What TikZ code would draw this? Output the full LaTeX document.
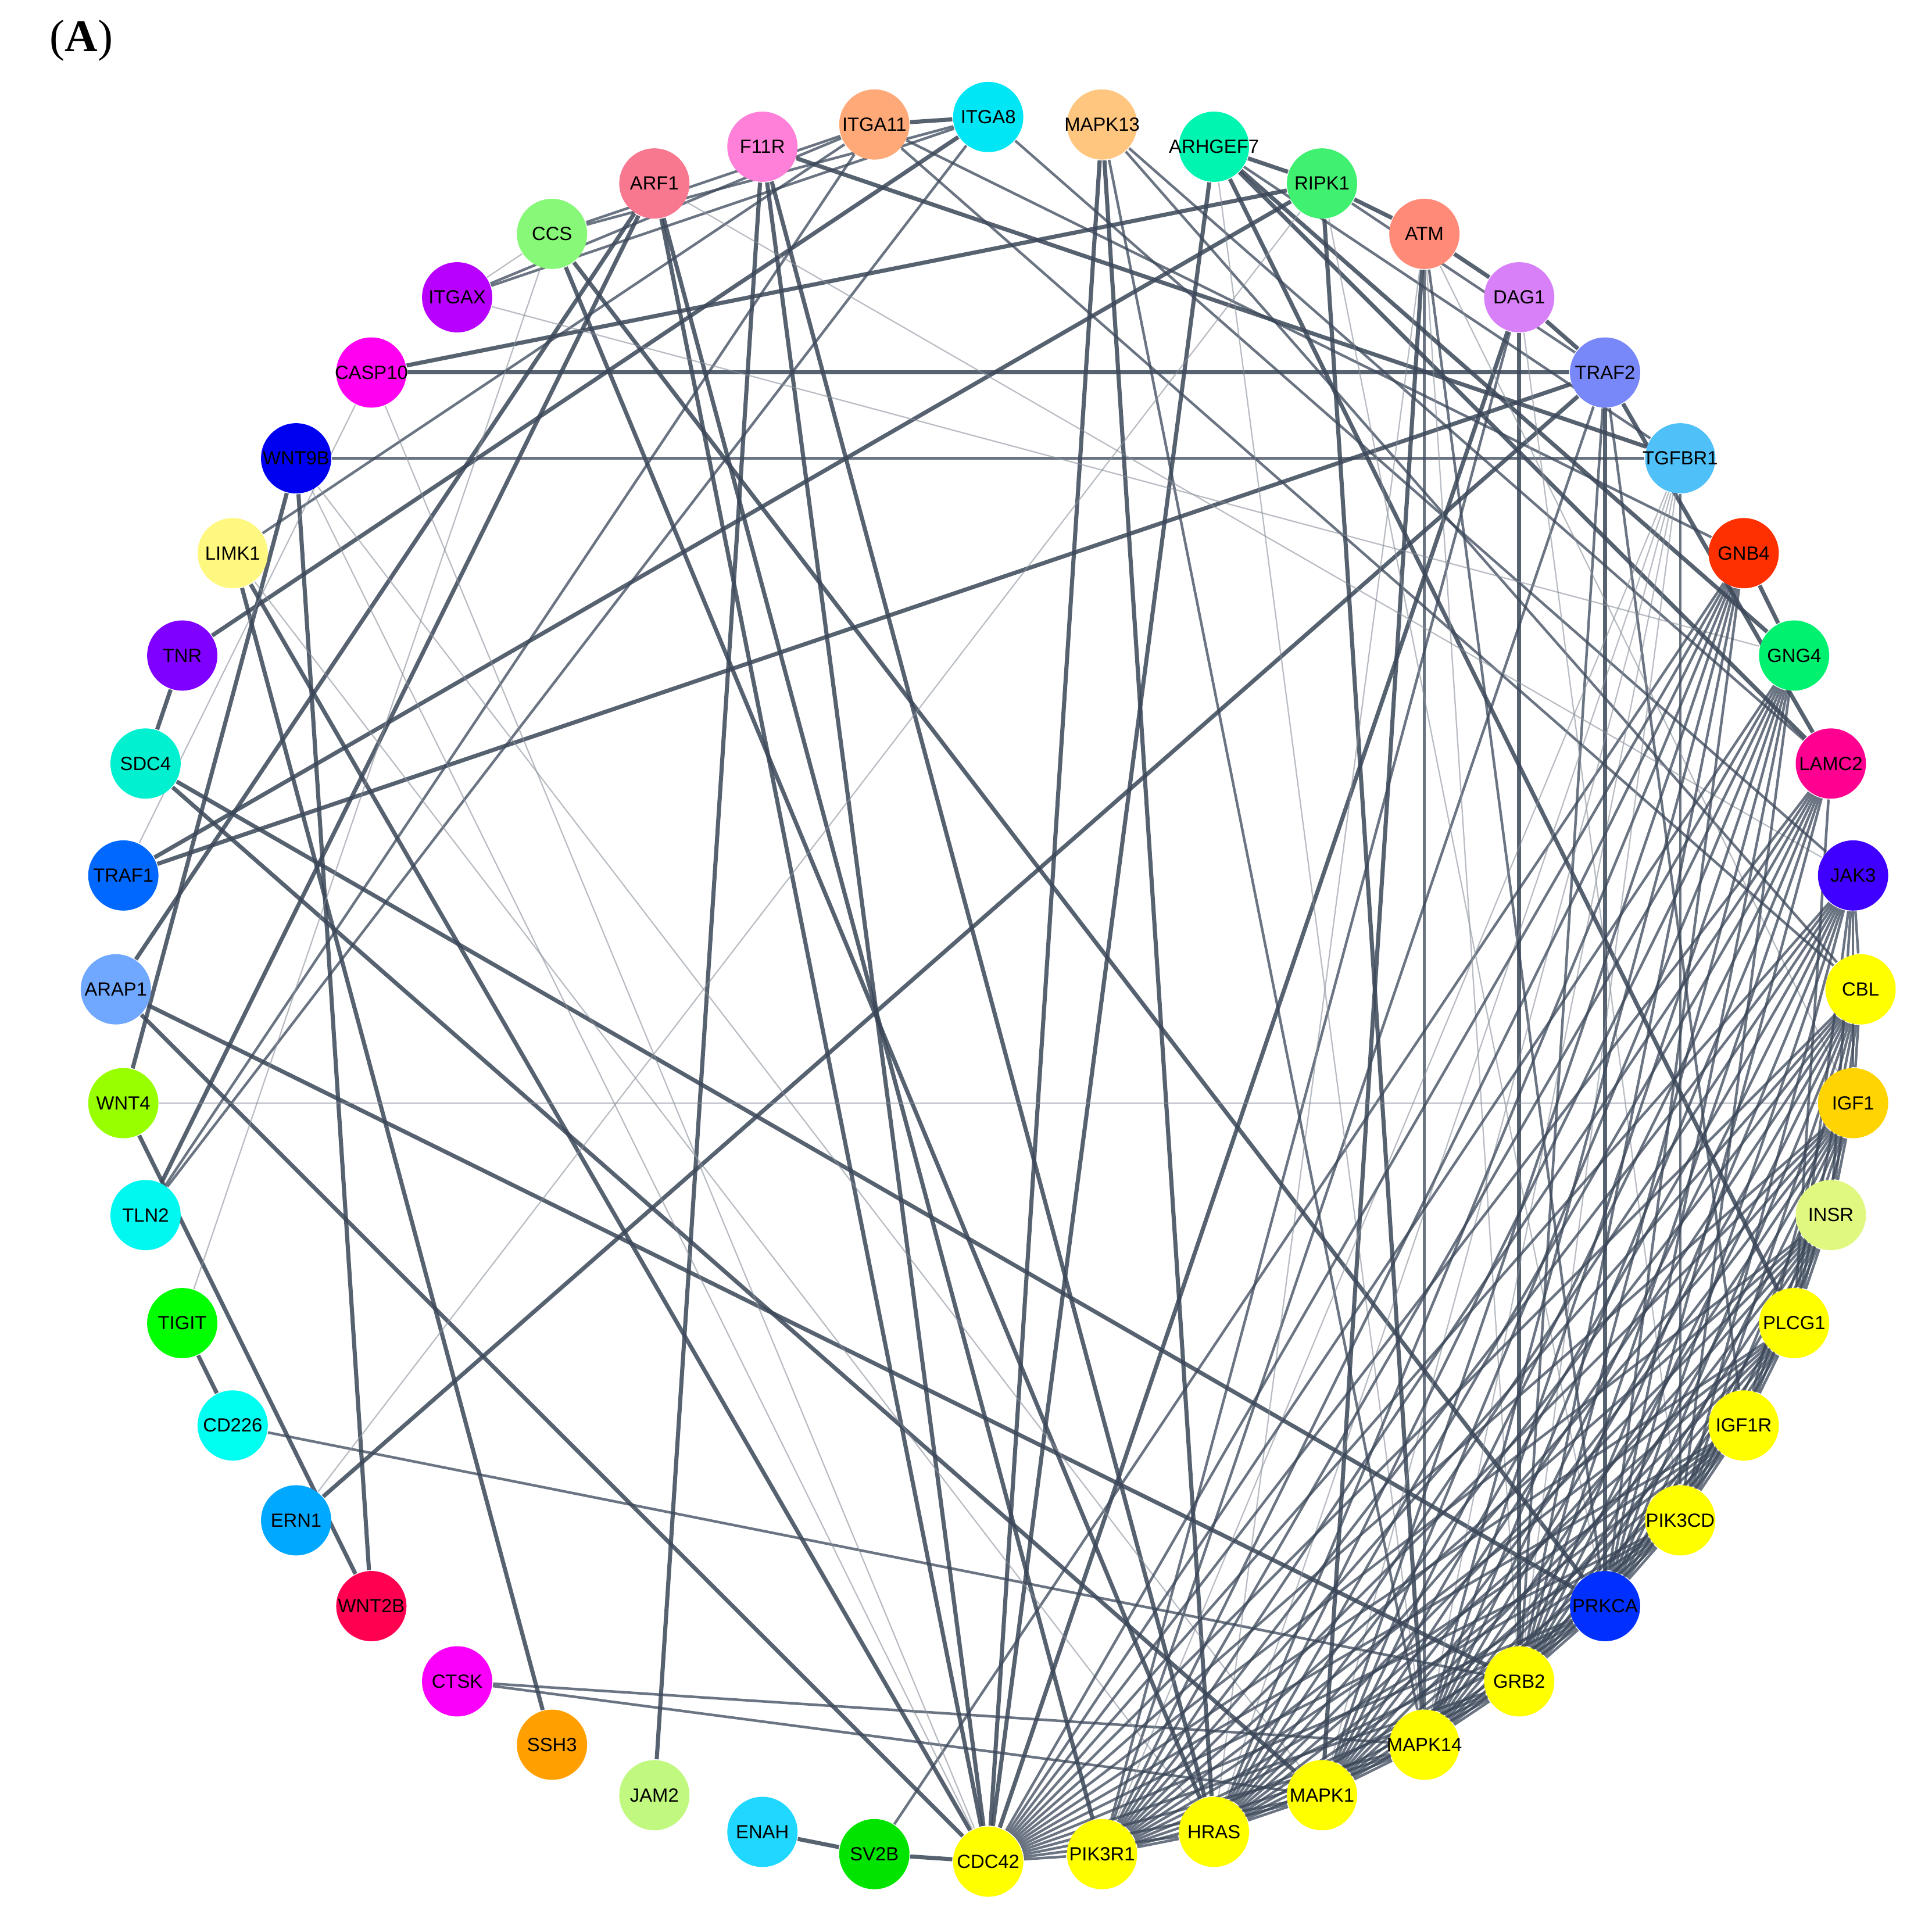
\documentclass[tikz,border=0pt]{standalone}
\usepackage{fontspec}
\setmainfont{Liberation Sans}
\newfontfamily\panelfont{Liberation Serif}
\usetikzlibrary{backgrounds}

\definecolor{edgeink}{RGB}{58,70,88}
\definecolor{gITGA8}{RGB}{0,230,245}
\definecolor{gMAPK13}{RGB}{255,198,128}
\definecolor{gARHGEF7}{RGB}{0,245,176}
\definecolor{gRIPK1}{RGB}{64,240,112}
\definecolor{gATM}{RGB}{255,138,120}
\definecolor{gDAG1}{RGB}{216,128,248}
\definecolor{gTRAF2}{RGB}{120,136,248}
\definecolor{gTGFBR1}{RGB}{80,192,248}
\definecolor{gGNB4}{RGB}{255,48,0}
\definecolor{gGNG4}{RGB}{0,240,112}
\definecolor{gLAMC2}{RGB}{255,0,144}
\definecolor{gJAK3}{RGB}{64,0,255}
\definecolor{gCBL}{RGB}{255,255,0}
\definecolor{gIGF1}{RGB}{255,212,0}
\definecolor{gINSR}{RGB}{224,248,128}
\definecolor{gPLCG1}{RGB}{255,255,0}
\definecolor{gIGF1R}{RGB}{255,255,0}
\definecolor{gPIK3CD}{RGB}{255,255,0}
\definecolor{gPRKCA}{RGB}{0,48,255}
\definecolor{gGRB2}{RGB}{255,255,0}
\definecolor{gMAPK14}{RGB}{255,255,0}
\definecolor{gMAPK1}{RGB}{255,255,0}
\definecolor{gHRAS}{RGB}{255,255,0}
\definecolor{gPIK3R1}{RGB}{255,255,0}
\definecolor{gCDC42}{RGB}{255,255,0}
\definecolor{gSV2B}{RGB}{0,228,0}
\definecolor{gENAH}{RGB}{32,216,255}
\definecolor{gJAM2}{RGB}{192,248,128}
\definecolor{gSSH3}{RGB}{255,160,0}
\definecolor{gCTSK}{RGB}{250,0,250}
\definecolor{gWNT2B}{RGB}{255,0,80}
\definecolor{gERN1}{RGB}{0,168,255}
\definecolor{gCD226}{RGB}{0,255,240}
\definecolor{gTIGIT}{RGB}{0,255,0}
\definecolor{gTLN2}{RGB}{0,248,240}
\definecolor{gWNT4}{RGB}{152,255,0}
\definecolor{gARAP1}{RGB}{112,168,255}
\definecolor{gTRAF1}{RGB}{0,104,255}
\definecolor{gSDC4}{RGB}{0,240,208}
\definecolor{gTNR}{RGB}{128,0,255}
\definecolor{gLIMK1}{RGB}{255,248,128}
\definecolor{gWNT9B}{RGB}{0,0,240}
\definecolor{gCASP10}{RGB}{255,0,240}
\definecolor{gITGAX}{RGB}{184,0,255}
\definecolor{gCCS}{RGB}{136,248,120}
\definecolor{gARF1}{RGB}{248,120,144}
\definecolor{gF11R}{RGB}{255,128,216}
\definecolor{gITGA11}{RGB}{255,168,120}

\tikzset{
  gene/.style={circle, fill=#1, minimum size=0.57cm, inner sep=0pt, font=\fontsize{4.4}{5}\selectfont},
  strong/.style={draw=edgeink, line width=0.95pt, opacity=0.85},
  medium/.style={draw=edgeink, line width=0.6pt, opacity=0.75},
  weak/.style={draw=edgeink!60, line width=0.3pt, opacity=0.6},
}

\begin{document}
\begin{tikzpicture}
\useasboundingbox (0,0) rectangle (15.68,15.54);
\coordinate (hub) at (8.02,7.51);
\node[font=\panelfont\fontsize{10.5}{12}\selectfont] (panel) at (0.66,15.21) {(\textbf{A})};

% genes round the ring, clockwise from the top
\foreach \g [count=\k from 0] in {ITGA8,MAPK13,ARHGEF7,RIPK1,ATM,DAG1,TRAF2,TGFBR1,GNB4,GNG4,LAMC2,JAK3,
    CBL,IGF1,INSR,PLCG1,IGF1R,PIK3CD,PRKCA,GRB2,MAPK14,MAPK1,HRAS,PIK3R1,CDC42,SV2B,ENAH,JAM2,SSH3,
    CTSK,WNT2B,ERN1,CD226,TIGIT,TLN2,WNT4,ARAP1,TRAF1,SDC4,TNR,LIMK1,WNT9B,CASP10,ITGAX,CCS,ARF1,F11R,ITGA11}
  \path (hub) ++({90-7.5*\k}:7.08) node[gene=g\g] (\g) {\makebox[0pt][c]{\g}};

\begin{pgfonlayer}{background}
% heavy interactions
\foreach \a/\b in {ITGA11/ITGA8,CASP10/TRAF2,CASP10/RIPK1,TRAF1/TRAF2,TRAF1/RIPK1,ERN1/TRAF2,WNT4/WNT2B,
    WNT2B/WNT9B,WNT9B/WNT4,LIMK1/SSH3,LIMK1/CDC42,TNR/ITGA8,TNR/SDC4,SDC4/PRKCA,SDC4/MAPK1,ARAP1/GRB2,
    ARAP1/CDC42,ARAP1/ARF1,TIGIT/CD226,JAM2/F11R,ENAH/SV2B,SV2B/CDC42,CCS/HRAS,CCS/PRKCA,ARF1/CDC42,
    ARF1/PIK3R1,ARF1/TLN2,F11R/CDC42,F11R/HRAS,F11R/TGFBR1,MAPK13/CDC42,MAPK13/HRAS,ARHGEF7/CDC42,
    ARHGEF7/GNG4,ARHGEF7/LAMC2,ARHGEF7/PLCG1,ARHGEF7/RIPK1,RIPK1/ATM,RIPK1/MAPK14,ATM/DAG1,ATM/MAPK1,
    DAG1/TRAF2,DAG1/CDC42,DAG1/GRB2,TRAF2/PRKCA,TRAF2/LAMC2,GNB4/GNG4}
  \draw[strong] (\a) -- (\b);
% middle weight
\foreach \a/\b in {WNT9B/TGFBR1,LIMK1/ITGA11,TLN2/ITGA8,TLN2/ITGA11,CD226/GRB2,CTSK/MAPK14,CTSK/MAPK1,
    SV2B/GNB4,ITGAX/ITGA11,ITGAX/ITGA8,CCS/ITGA8,CCS/ITGA11,ITGA11/GNB4,ITGA11/CBL,ITGA8/JAK3,
    MAPK13/MAPK14,MAPK13/LAMC2,MAPK13/CBL,ARHGEF7/TGFBR1,RIPK1/TRAF2,ATM/MAPK14,ATM/PRKCA,DAG1/PIK3R1,
    TRAF2/GRB2,TRAF2/IGF1R,TRAF2/PIK3R1,TGFBR1/PIK3CD}
  \draw[medium] (\a) -- (\b);
% faint ones
\foreach \a/\b in {CASP10/TRAF1,CASP10/CDC42,WNT4/IGF1,ERN1/RIPK1,TIGIT/CCS,ITGAX/CCS,ITGAX/GNG4,
    ARF1/JAK3,ARHGEF7/MAPK14,RIPK1/PRKCA,ATM/GRB2,ATM/HRAS,ATM/IGF1,DAG1/PIK3CD,TGFBR1/PIK3R1,
    TGFBR1/HRAS,TGFBR1/MAPK1,TGFBR1/MAPK14,TGFBR1/GRB2,WNT9B/CDC42,WNT9B/MAPK1,LIMK1/HRAS}
  \draw[weak] (\a) -- (\b);
% dense core on the lower right
\foreach \a/\others in {CBL/{IGF1,INSR,PLCG1,IGF1R,PIK3CD,PRKCA,GRB2,MAPK14,MAPK1,HRAS,PIK3R1,CDC42},
    IGF1/{INSR,PLCG1,IGF1R,PIK3CD,PRKCA,GRB2,MAPK14,MAPK1,HRAS,PIK3R1,CDC42},
    INSR/{PLCG1,IGF1R,PIK3CD,PRKCA,GRB2,MAPK14,MAPK1,HRAS,PIK3R1,CDC42},
    PLCG1/{IGF1R,PIK3CD,PRKCA,GRB2,MAPK14,MAPK1,HRAS,PIK3R1,CDC42},
    IGF1R/{PIK3CD,PRKCA,GRB2,MAPK14,MAPK1,HRAS,PIK3R1,CDC42},
    PIK3CD/{PRKCA,GRB2,MAPK14,MAPK1,HRAS,PIK3R1,CDC42},
    PRKCA/{GRB2,MAPK14,MAPK1,HRAS,PIK3R1,CDC42},
    GRB2/{MAPK14,MAPK1,HRAS,PIK3R1,CDC42},
    MAPK14/{MAPK1,HRAS,PIK3R1,CDC42},
    MAPK1/{HRAS,PIK3R1,CDC42},
    HRAS/{PIK3R1,CDC42},
    PIK3R1/{CDC42},
    JAK3/{CBL,IGF1,INSR,PLCG1,PIK3CD,PRKCA,GRB2,MAPK14,MAPK1,HRAS,PIK3R1,CDC42},
    LAMC2/{PLCG1,PRKCA,GRB2,MAPK14,MAPK1,HRAS,PIK3R1,CDC42},
    GNG4/{PIK3CD,PRKCA,GRB2,MAPK14,MAPK1,HRAS,PIK3R1,CDC42},
    GNB4/{PRKCA,GRB2,MAPK14,MAPK1,HRAS,PIK3R1,CDC42}}
  \foreach \b in \others
    \draw[medium] (\a) -- (\b);
\end{pgfonlayer}
\end{tikzpicture}
\end{document}
